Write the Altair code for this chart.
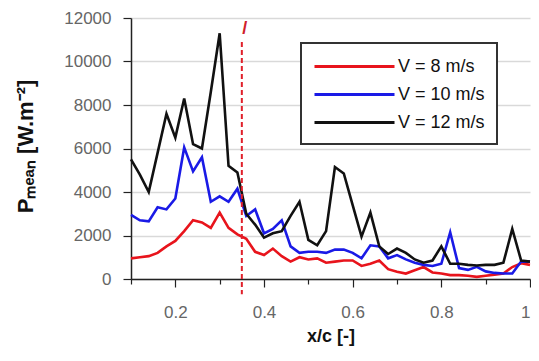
import altair as alt
import pandas as pd

# x/c positions
x_c = [0.10, 0.12, 0.14, 0.16, 0.18, 0.20, 0.22, 0.24, 0.26, 0.28,
       0.30, 0.32, 0.34, 0.36, 0.38, 0.40, 0.42, 0.44, 0.46, 0.48,
       0.50, 0.52, 0.54, 0.56, 0.58, 0.60, 0.62, 0.64, 0.66, 0.68,
       0.70, 0.72, 0.74, 0.76, 0.78, 0.80, 0.82, 0.84, 0.86, 0.88,
       0.90, 0.92, 0.94, 0.96, 0.98, 1.00]

p_v8 = [950, 1000, 1050, 1200, 1500, 1750, 2200, 2700, 2600, 2350,
        3050, 2350, 2050, 1850, 1250, 1100, 1400, 1050, 800, 1000,
        900, 950, 750, 800, 850, 850, 600, 700, 850, 450,
        330, 250, 400, 550, 300, 250, 180, 180, 150, 100,
        150, 200, 250, 550, 720, 650]

p_v10 = [2950, 2700, 2650, 3300, 3200, 3700, 6050, 4950, 5600, 3550,
         3800, 3550, 4150, 2900, 3200, 2100, 2300, 2700, 1500, 1200,
         1250, 1250, 1200, 1350, 1350, 1200, 950, 1550, 1500, 950,
         1100, 900, 750, 650, 600, 700, 2150, 500, 420, 560,
         350, 280, 250, 250, 800, 800]

p_v12 = [5500, 4800, 4000, 5800, 7600, 6500, 8300, 6200, 6000, 8600,
         11300, 5200, 4900, 3000, 2500, 1900, 2100, 2200, 2900, 3550,
         1800, 1550, 2200, 5150, 4850, 3400, 1950, 3050, 1500, 1150,
         1400, 1200, 900, 750, 850, 1500, 700, 700, 650, 620,
         650, 650, 750, 2300, 850, 800]

series_names = ["V = 8 m/s", "V = 10 m/s", "V = 12 m/s"]
series_colors = ["#e8141c", "#1a1ae6", "#111111"]

marker_x = 0.35
marker_label = "/"

rows = []
for name, vals in zip(series_names, [p_v8, p_v10, p_v12]):
    for xv, yv in zip(x_c, vals):
        rows.append({"x": xv, "P": yv, "series": name})
df = pd.DataFrame(rows)

x_scale = alt.Scale(domain=[0.1, 1.0], nice=False, zero=False)
y_scale = alt.Scale(domain=[0, 12000], nice=False)

x_ticks = [0.10, 0.15, 0.20, 0.25, 0.30, 0.35, 0.40, 0.45, 0.50, 0.55,
           0.60, 0.65, 0.70, 0.75, 0.80, 0.85, 0.90, 0.95, 1.00]
y_ticks = [0, 1000, 2000, 3000, 4000, 5000, 6000, 7000, 8000, 9000,
           10000, 11000, 12000]

x_axis = alt.Axis(
    values=x_ticks,
    labelExpr="round(datum.value*100) % 20 == 0 ? (datum.value > 0.999 ? '1' : format(datum.value, '.1f')) : ''",
    title="x/c [-]",
    titleFont="Liberation Sans", titleFontSize=18, titleFontWeight="bold",
    titleColor="#111", titleY=57, titleBaseline="middle",
    labelFont="Liberation Sans", labelFontSize=17, labelColor="#666",
    labelPadding=17, labelFlush=True, labelOverlap=False,
    tickSize={"condition": {"test": "round(datum.value*100) % 20 == 0", "value": 8}, "value": 5},
    tickColor="#222", tickWidth=1.2,
    domainColor="#222", domainWidth=1.5, grid=False,
)

y_axis = alt.Axis(
    values=y_ticks,
    labelExpr="datum.value % 2000 == 0 ? format(datum.value, 'd') : ''",
    title="Pₘₑₐₙ [W.m⁻²]",
    titleFont="Liberation Sans", titleFontSize=22, titleFontWeight="bold",
    titleColor="#111", titleX=-106, titleY=128, titleAngle=270,
    titleAlign="center", titleBaseline="middle",
    labelFont="Liberation Sans", labelFontSize=17, labelColor="#666",
    labelPadding=12, labelOverlap=False,
    tickSize={"condition": {"test": "datum.value % 2000 == 0", "value": 8}, "value": 4},
    tickColor="#222", tickWidth=1.2,
    domainColor="#222", domainWidth=1.5,
    grid=True, gridColor="#d9d9d9", gridWidth=1.5,
    gridOpacity={"condition": {"test": "datum.value % 2000 == 0", "value": 1}, "value": 0},
)

lines = alt.Chart(df).mark_line(strokeWidth=2.6).encode(
    x=alt.X("x:Q", scale=x_scale, axis=x_axis),
    y=alt.Y("P:Q", scale=y_scale, axis=y_axis),
    color=alt.Color(
        "series:N",
        scale=alt.Scale(domain=series_names, range=series_colors),
        sort=series_names,
        legend=alt.Legend(
            title=None, orient="none", legendX=170, legendY=25,
            symbolType="M-1,0H7", symbolSize=400, symbolStrokeWidth=3,
            labelOffset=62, labelFont="Liberation Sans", labelFontSize=18,
            labelColor="#111", rowPadding=7, padding=12,
            strokeColor="#333", fillColor="white",
        ),
    ),
)

marker_df = pd.DataFrame({"x": [marker_x], "y1": [10900], "y2": [-700],
                          "ty": [11500], "label": [marker_label]})

vline = alt.Chart(marker_df).mark_rule(
    color="#e0202a", strokeWidth=2, strokeDash=[5, 3], clip=False
).encode(
    x=alt.X("x:Q", scale=x_scale),
    y=alt.Y("y1:Q", scale=y_scale),
    y2="y2:Q",
)

vtext = alt.Chart(marker_df).mark_text(
    color="#d0202a", fontSize=18, fontWeight="bold", font="Liberation Sans",
    dx=3, baseline="middle"
).encode(
    x=alt.X("x:Q", scale=x_scale),
    y=alt.Y("ty:Q", scale=y_scale),
    text="label:N",
)

chart = alt.layer(lines, vline, vtext).properties(
    width=399, height=261,
    padding={"left": 123, "top": 10, "right": 1, "bottom": 72},
    autosize=alt.AutoSizeParams(type="none"),
    background="white",
).configure_view(stroke=None).configure_legend(strokeWidth=2)

chart.save("out.html", embed_options={"renderer": "svg", "actions": False})
